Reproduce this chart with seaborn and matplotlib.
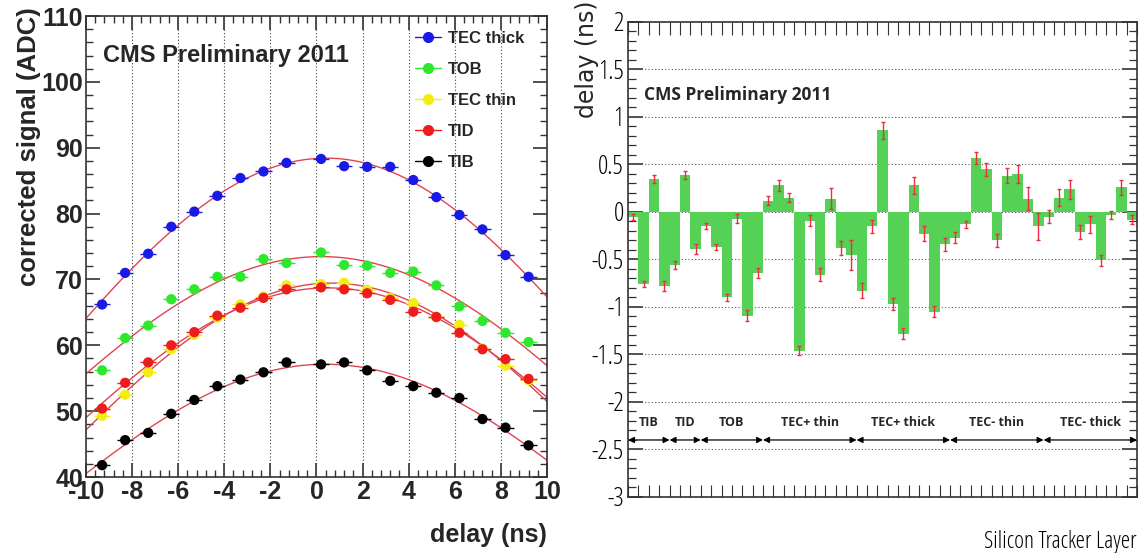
import numpy as np
import pandas as pd
import matplotlib
matplotlib.use('Agg')
import matplotlib.pyplot as plt
import seaborn as sns
from matplotlib.ticker import MultipleLocator, NullFormatter
from matplotlib.lines import Line2D
from matplotlib import font_manager

# ---- left panel: signal vs delay for each partition
delay = [-9.3, -8.3, -7.3, -6.3, -5.3, -4.3, -3.3, -2.3, -1.3,
         0.2, 1.2, 2.2, 3.2, 4.2, 5.2, 6.2, 7.2, 8.2, 9.2]
tec_thick = [66.2, 71.0, 73.9, 78.0, 80.3, 82.7, 85.4, 86.4, 87.7,
             88.3, 87.2, 87.1, 87.1, 85.1, 82.5, 79.8, 77.6, 73.7, 70.4]
tob = [56.2, 61.1, 63.0, 67.0, 68.5, 70.4, 70.4, 73.1, 72.5,
       74.1, 72.2, 72.1, 71.0, 71.2, 69.1, 65.9, 63.7, 61.9, 60.5]
tec_thin = [49.3, 52.5, 55.9, 59.4, 61.6, 64.2, 66.2, 67.4, 69.1,
            69.3, 69.5, 68.4, 67.2, 66.4, 64.3, 63.1, 59.5, 56.9, 54.7]
tid = [50.4, 54.3, 57.4, 60.0, 62.0, 64.5, 65.7, 67.2, 68.5,
       68.8, 68.5, 67.9, 66.9, 65.1, 64.3, 61.9, 59.4, 57.9, 54.9]
tib = [41.8, 45.6, 46.7, 49.6, 51.7, 53.8, 54.8, 55.9, 57.4,
       57.1, 57.4, 56.2, 54.6, 53.8, 52.8, 52.0, 48.8, 47.5, 44.8]

series_names = ['TEC thick', 'TOB', 'TEC thin', 'TID', 'TIB']
series_vals = [tec_thick, tob, tec_thin, tid, tib]
series_cols = ['#1a1ae6', '#2ee82e', '#f2ee12', '#ee1c1c', '#000000']

# ---- right panel: delay per layer
layer_shift = [-0.05, -0.76, 0.35, -0.78, -0.56, 0.39, -0.39, -0.15, -0.37, -0.90,
               -0.07, -1.09, -0.64, 0.12, 0.28, 0.15, -1.46, -0.09, -0.66, 0.14,
               -0.38, -0.45, -0.83, -0.15, 0.86, -0.97, -1.28, 0.28, -0.23, -1.05,
               -0.34, -0.27, -0.13, 0.57, 0.45, -0.30, 0.38, 0.40, 0.14, -0.15,
               -0.05, 0.15, 0.24, -0.21, -0.13, -0.51, -0.03, 0.26, -0.08]
layer_err = [0.03, 0.03, 0.04, 0.05, 0.04, 0.04, 0.05, 0.03, 0.03, 0.04,
             0.05, 0.06, 0.05, 0.05, 0.06, 0.05, 0.05, 0.06, 0.07, 0.11,
             0.07, 0.16, 0.08, 0.07, 0.09, 0.06, 0.06, 0.09, 0.08, 0.06,
             0.07, 0.06, 0.04, 0.06, 0.07, 0.07, 0.08, 0.09, 0.12, 0.14,
             0.07, 0.09, 0.10, 0.07, 0.09, 0.06, 0.04, 0.08, 0.05]
part_names = ['TIB', 'TID', 'TOB', 'TEC+ thin', 'TEC+ thick', 'TEC- thin', 'TEC- thick']
part_sizes = [4, 3, 6, 9, 9, 9, 9]

sns.set_theme(style='white')
plt.rcParams['font.family'] = ['Liberation Sans', 'DejaVu Sans']
plt.rcParams['axes.unicode_minus'] = False

# look for some condensed face for the right hand plot
condensed = {f.name for f in font_manager.fontManager.ttflist if 'condensed' in str(f.stretch)}
names = {f.name for f in font_manager.fontManager.ttflist}
if 'Liberation Sans Narrow' in names:
    nk = dict(family='Liberation Sans Narrow')
    shrink = 1.0
else:
    nk = dict(family='Liberation Sans')
    shrink = 0.85
    for cand in ['Noto Sans', 'Roboto', 'Open Sans', 'DejaVu Sans']:
        if cand in condensed:
            nk = dict(family=cand, stretch='condensed')
            shrink = 1.0
            break

fig = plt.figure(figsize=(11.46, 5.53), dpi=100)
ax = fig.add_axes([0.075, 0.1374, 0.4023, 0.8336])
ax2 = fig.add_axes([0.548, 0.1013, 0.4442, 0.8590])

# ---------------- left
df = pd.DataFrame({
    'delay': np.tile(delay, len(series_names)),
    'signal': np.concatenate(series_vals),
    'layer': np.repeat(series_names, len(delay)),
})
xs = np.linspace(-10, 10, 300)
for name, vals, col in zip(series_names, series_vals, series_cols):
    coef = np.polyfit(delay, np.log(vals), 2)
    sns.lineplot(x=xs, y=np.exp(np.polyval(coef, xs)), color='#e0444f', lw=1, ax=ax, zorder=2)
for name, vals, col in zip(series_names, series_vals, series_cols):
    ax.errorbar(delay, vals, xerr=0.35, fmt='none', ecolor=col, elinewidth=1, zorder=3)
sns.scatterplot(data=df, x='delay', y='signal', hue='layer', palette=dict(zip(series_names, series_cols)),
                s=55, edgecolor='none', legend=False, ax=ax, zorder=4)

ax.set_xlim(-10, 10)
ax.set_ylim(40, 110)
ax.xaxis.set_major_locator(MultipleLocator(2))
ax.xaxis.set_minor_locator(MultipleLocator(0.4))
ax.yaxis.set_major_locator(MultipleLocator(10))
ax.yaxis.set_minor_locator(MultipleLocator(2))
ax.tick_params(which='both', direction='in', top=True, right=True, bottom=True, left=True, color='#333333')
ax.tick_params(which='major', length=10, width=1.2, labelsize=18, pad=2)
ax.tick_params(which='minor', length=5, width=1)
for lb in ax.get_xticklabels() + ax.get_yticklabels():
    lb.set_fontweight('bold')
for gx in range(-8, 10, 2):
    ax.axvline(gx, color='#444444', lw=0.8, ls=(0, (1, 2)), zorder=1)
for s in ax.spines.values():
    s.set_color('#333333')
    s.set_linewidth(1.2)
ax.set_xlabel('delay (ns)', loc='right', fontsize=18, fontweight='bold', labelpad=14)
ax.set_ylabel('')
fig.text(29 / 1146, 1 - 7 / 553, 'corrected signal (ADC)', rotation=90, ha='center', va='top',
         fontsize=18.5, fontweight='bold')
ax.text(0.037, 0.915, 'CMS Preliminary 2011', transform=ax.transAxes, fontsize=17,
        fontweight='bold', va='center', ha='left')
handles = [Line2D([0], [0], color=c, marker='o', markersize=7, lw=1) for c in series_cols]
leg = ax.legend(handles, series_names, loc='upper left', bbox_to_anchor=(0.695, 0.985),
                frameon=False, handlelength=1.6, handletextpad=0.4, labelspacing=0.95,
                borderpad=0, prop={'weight': 'bold', 'size': 12})

# ---------------- right
bins = np.arange(len(layer_shift))
sns.barplot(x=bins, y=layer_shift, color='#55d155', width=1, saturation=1,
            edgecolor='none', errorbar=None, ax=ax2, zorder=2)
ax2.errorbar(bins, layer_shift, yerr=layer_err, fmt='none', ecolor='#e83040',
             elinewidth=1, capsize=1.5, capthick=1, zorder=3)
ax2.set_xlim(-0.5, len(layer_shift) - 0.5)
ax2.set_ylim(-3, 2)
ax2.set_xticks(np.arange(-0.5, len(layer_shift), 1))
ax2.xaxis.set_major_formatter(NullFormatter())
ax2.yaxis.set_major_locator(MultipleLocator(0.5))
ax2.yaxis.set_minor_locator(MultipleLocator(0.1))
ax2.yaxis.set_major_formatter(plt.FuncFormatter(lambda v, p: f'{v:g}'))
ax2.tick_params(which='both', direction='in', top=True, right=True, bottom=True, left=True, color='#333333')
ax2.tick_params(axis='x', which='major', length=9, width=0.8)
ax2.tick_params(axis='y', which='major', length=11, width=1.2, labelsize=18.5 * shrink, pad=3,
                labelcolor='#000000')
ax2.tick_params(axis='y', which='minor', length=6, width=0.9)
for lb in ax2.get_yticklabels():
    lb.set(weight='normal', **nk)
for gy in np.arange(-2.5, 2.0, 0.5):
    ax2.axhline(gy, color='#555555', lw=0.8, ls=(0, (1, 2)), zorder=1)
for s in ax2.spines.values():
    s.set_color('#333333')
    s.set_linewidth(1.2)
ax2.set_ylabel('')
fig.text(587 / 1146, 1 - 1 / 553, 'delay (ns)', rotation=90, ha='center', va='top',
         fontsize=17, family='DejaVu Sans')
ax2.set_xlabel('Silicon Tracker Layer', loc='right', fontsize=17 * shrink, labelpad=20,
               weight='normal', color='#000000', **nk)
ax2.text(0.031, 0.846, 'CMS Preliminary 2011', transform=ax2.transAxes, fontsize=12.5 * shrink,
         fontweight='bold', va='center', ha='left', **nk)

start = -0.5
for name, n in zip(part_names, part_sizes):
    end = start + n
    ax2.annotate('', xy=(end, -2.4), xytext=(start, -2.4),
                 arrowprops=dict(arrowstyle='<|-|>', color='black', lw=0.9,
                                 mutation_scale=9, shrinkA=0, shrinkB=0))
    ax2.text((start + end) / 2, -2.22, name, ha='center', va='center',
             fontsize=9 * shrink, fontweight='bold', **nk)
    start = end

fig.savefig('out.png', dpi=100)
